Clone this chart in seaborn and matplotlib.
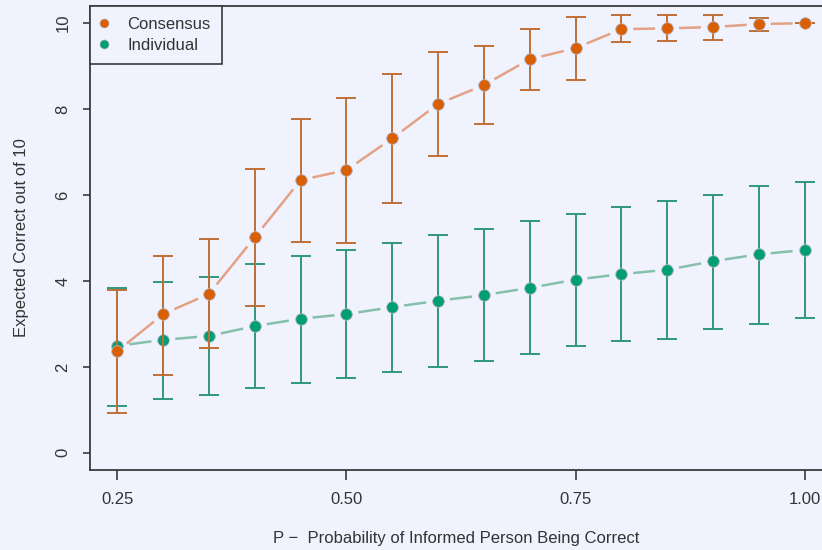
import numpy as np
import pandas as pd
import matplotlib
matplotlib.use("Agg")
import matplotlib.pyplot as plt
import seaborn as sns
from matplotlib.collections import LineCollection
from matplotlib.lines import Line2D

# ---- data ----
p_values = [0.25, 0.30, 0.35, 0.40, 0.45, 0.50, 0.55, 0.60,
            0.65, 0.70, 0.75, 0.80, 0.85, 0.90, 0.95, 1.00]
consensus_mean = [2.37, 3.23, 3.70, 5.02, 6.35, 6.58, 7.32, 8.12,
                  8.56, 9.16, 9.42, 9.86, 9.88, 9.91, 9.98, 10.00]
consensus_lo = [0.93, 1.81, 2.44, 3.42, 4.91, 4.88, 5.81, 6.91,
                7.65, 8.44, 8.68, 9.56, 9.58, 9.62, 9.81, 10.00]
consensus_hi = [3.79, 4.58, 4.97, 6.60, 7.77, 8.26, 8.81, 9.33,
                9.48, 9.86, 10.14, 10.19, 10.19, 10.19, 10.12, 10.00]
individual_mean = [2.49, 2.63, 2.72, 2.95, 3.12, 3.23, 3.39, 3.54,
                   3.67, 3.84, 4.03, 4.16, 4.26, 4.46, 4.62, 4.72]
individual_lo = [1.09, 1.26, 1.35, 1.51, 1.63, 1.74, 1.88, 2.00,
                 2.14, 2.30, 2.49, 2.60, 2.65, 2.88, 3.00, 3.14]
individual_hi = [3.84, 3.98, 4.10, 4.40, 4.58, 4.72, 4.88, 5.07,
                 5.21, 5.40, 5.56, 5.72, 5.86, 6.00, 6.21, 6.30]
series_names = ["Consensus", "Individual"]
x_ticks = [0.25, 0.50, 0.75, 1.00]
x_tick_labels = ["0.25", "0.50", "0.75", "1.00"]
y_ticks = [0, 2, 4, 6, 8, 10]

BG = "#F0F3FE"
DOT = {"Consensus": "#D95F02", "Individual": "#009E73"}
BAR = {"Consensus": "#BF6F36", "Individual": "#2F977D"}
LINE = {"Consensus": "#E3A285", "Individual": "#86BFAA"}
TXT = "#333333"

sns.set_theme(style="white")
plt.rcParams["font.family"] = ["Liberation Sans", "DejaVu Sans"]
NARROW = ["Liberation Sans Narrow", "Liberation Sans", "DejaVu Sans"]

rows = []
for name, m, lo, hi in [("Consensus", consensus_mean, consensus_lo, consensus_hi),
                        ("Individual", individual_mean, individual_lo, individual_hi)]:
    for x, mv, l, h in zip(p_values, m, lo, hi):
        rows.append({"p": x, "value": mv, "lo": l, "hi": h, "series": name})
df = pd.DataFrame(rows)

fig = plt.figure(figsize=(8.22, 5.5), dpi=100, facecolor=BG)
ax = fig.add_axes([90 / 822, 1 - 470 / 550, (832 - 90) / 822, (470 - 6) / 550])
ax.set_facecolor(BG)
ax.set_xlim(0.22, 1.03)
ax.set_ylim(-0.4, 10.4)

fig.canvas.draw()
gap = 12.0  # pixels of empty space around each point (R type="b")

draw_order = ["Individual", "Consensus"]
for z, name in enumerate(draw_order):
    sub = df[df["series"] == name]
    # gapped connecting lines
    pts = ax.transData.transform(np.column_stack([sub["p"], sub["value"]]))
    segs = []
    for a, b in zip(pts[:-1], pts[1:]):
        d = b - a
        L = np.hypot(*d)
        if L > 2 * gap:
            u = d / L
            segs.append(ax.transData.inverted().transform([a + u * gap, b - u * gap]))
    lc = LineCollection(segs, colors=LINE[name], linewidths=1.8, zorder=2 + z * 3)
    ax.add_collection(lc)
    # error bars
    ax.errorbar(sub["p"], sub["value"],
                yerr=[sub["value"] - sub["lo"], sub["hi"] - sub["value"]],
                fmt="none", ecolor=BAR[name], elinewidth=1.4, capsize=7.5,
                capthick=1.4, zorder=3 + z * 3)
    # points
    sns.scatterplot(data=sub, x="p", y="value", color=DOT[name], s=70,
                    edgecolor="#B4B4C4", linewidth=0.6, ax=ax, legend=False,
                    zorder=4 + z * 3)

for side in ["left", "bottom", "top", "right"]:
    ax.spines[side].set_color("#3a3a3a")
    ax.spines[side].set_linewidth(1.3)

ax.set_xticks(x_ticks)
ax.set_xticklabels(x_tick_labels, fontfamily=NARROW, fontsize=12, color=TXT)
ax.set_yticks(y_ticks)
ax.set_yticklabels([str(v) for v in y_ticks], fontsize=12, color=TXT,
                   rotation=90, va="center")
ax.tick_params(axis="x", length=7.5, width=1.2, color="#3a3a3a", pad=8,
               bottom=True)
ax.tick_params(axis="y", length=5, width=1.2, color="#3a3a3a", pad=9,
               left=True)

ax.set_xlabel("P \u2212  Probability of Informed Person Being Correct",
              fontfamily=NARROW, fontsize=12, color=TXT)
ax.xaxis.set_label_coords((456 - 90) / 742, -(531 - 470) / 464)
ax.set_ylabel("Expected Correct out of 10", fontsize=12, color=TXT)
ax.yaxis.set_label_coords(-(90 - 29) / 742, 0.5)

handles = [Line2D([], [], marker="o", linestyle="none", markersize=6.5,
                  markerfacecolor=DOT[n], markeredgecolor="#B4B4C4",
                  markeredgewidth=0.5) for n in series_names]
leg = ax.legend(handles, series_names, loc="upper left", bbox_to_anchor=(0, 1),
                borderaxespad=0, frameon=True, fancybox=False, fontsize=12,
                handlelength=0.3, handletextpad=1.29, borderpad=0.66,
                labelspacing=0.38, facecolor=BG, edgecolor="#3a3a3a",
                framealpha=1)
leg.get_frame().set_linewidth(1.2)
for t in leg.get_texts():
    t.set_color(TXT)

fig.savefig("out.png", dpi=100, facecolor=BG)
